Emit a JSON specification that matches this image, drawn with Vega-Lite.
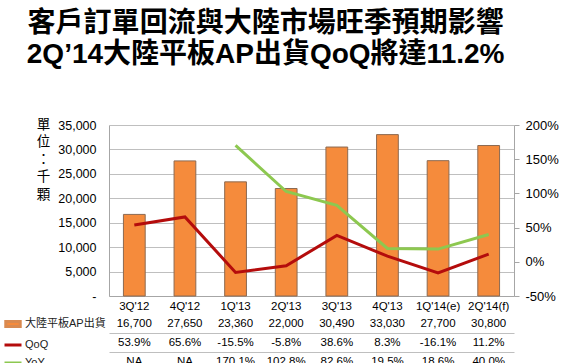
{
  "$schema": "https://vega.github.io/schema/vega-lite/v6.json",
  "background": "white",
  "padding": {"left": 3, "right": 2, "top": 10, "bottom": 0},
  "config": {
    "view": {"stroke": null},
    "font": "Liberation Sans",
    "axis": {"labelColor": "#000", "titleColor": "#000", "labelOverlap": false},
    "legend": {"orient": "left", "title": null, "offset": 3, "labelFont": "Liberation Sans, Noto Sans CJK TC", "labelFontSize": 11, "labelColor": "#222", "symbolSize": 289, "symbolStrokeWidth": 3, "rowPadding": 2, "labelOffset": 2, "padding": 0},
    "locale": {"number": {"decimal": ".", "thousands": ",", "grouping": [3], "currency": ["$", ""], "minus": "-"}}
  },
  "title": {
    "text": ["客戶訂單回流與大陸市場旺季預期影響", "2Q’14大陸平板AP出貨QoQ將達11.2%"],
    "font": "Liberation Sans, Noto Sans CJK TC",
    "fontSize": 28,
    "fontWeight": "bold",
    "lineHeight": 31,
    "color": "#000",
    "anchor": "middle",
    "dx": -15,
    "offset": 48
  },
  "datasets": {
    "q": [
      {"q": "3Q'12", "ship": 16700, "qoq": 0.539, "yoy": null},
      {"q": "4Q'12", "ship": 27650, "qoq": 0.656, "yoy": null},
      {"q": "1Q'13", "ship": 23360, "qoq": -0.155, "yoy": 1.701},
      {"q": "2Q'13", "ship": 22000, "qoq": -0.058, "yoy": 1.028},
      {"q": "3Q'13", "ship": 30490, "qoq": 0.386, "yoy": 0.826},
      {"q": "4Q'13", "ship": 33030, "qoq": 0.083, "yoy": 0.195},
      {"q": "1Q'14(e)", "ship": 27700, "qoq": -0.161, "yoy": 0.186},
      {"q": "2Q'14(f)", "ship": 30800, "qoq": 0.112, "yoy": 0.4}
    ]
  },
  "spacing": 2,
  "resolve": {
    "scale": {"fill": "independent", "stroke": "independent", "shape": "independent"},
    "legend": {"fill": "independent", "stroke": "independent", "shape": "independent"}
  },
  "vconcat": [
    {
      "width": 405,
      "height": 171,
      "data": {"name": "q"},
      "encoding": {
        "x": {
          "field": "q", "type": "nominal", "sort": null,
          "scale": {"paddingInner": 0.57, "paddingOuter": 0.285},
          "axis": {"title": null, "labelAngle": 0, "ticks": false, "domainColor": "#A6A6A6", "labelFontSize": 11.5, "labelPadding": 4}
        }
      },
      "layer": [
        {
          "mark": {"type": "bar", "fill": "#F58B3C", "stroke": "#8C6A52", "strokeWidth": 1},
          "encoding": {
            "y": {
              "field": "ship", "type": "quantitative",
              "scale": {"domain": [0, 35000], "nice": false},
              "axis": {
                "title": ["單", "位", "：", "千", "顆"],
                "titleAngle": 0, "titleFont": "Noto Sans CJK TC", "titleFontSize": 13.5, "titleFontWeight": "normal",
                "titleLineHeight": 17.5, "titleAlign": "center", "titleBaseline": "top", "titleX": -66, "titleY": -8,
                "values": [0, 5000, 10000, 15000, 20000, 25000, 30000, 35000],
                "labelExpr": "datum.value == 0 ? '-     ' : format(datum.value, ',')",
                "ticks": false, "domainColor": "#A6A6A6", "gridColor": "#BFBFBF", "labelFontSize": 12.5, "labelPadding": 13
              }
            }
          }
        },
        {
          "layer": [
            {
              "mark": {"type": "line", "color": "#B40C0C", "strokeWidth": 3},
              "encoding": {
                "y": {
                  "field": "qoq", "type": "quantitative",
                  "scale": {"domain": [-0.5, 2], "nice": false},
                  "axis": {"orient": "right", "title": null, "values": [-0.5, 0, 0.5, 1, 1.5, 2], "format": ".0%", "labelOverlap": false, "grid": false, "tickSize": 5, "tickColor": "#A6A6A6", "domainColor": "#A6A6A6", "labelFontSize": 13, "labelPadding": 6}
                }
              }
            },
            {
              "transform": [{"filter": "datum.yoy != null"}],
              "mark": {"type": "line", "color": "#8DC850", "strokeWidth": 3},
              "encoding": {
                "y": {
                  "field": "yoy", "type": "quantitative",
                  "axis": {"orient": "right", "title": null, "values": [-0.5, 0, 0.5, 1, 1.5, 2], "format": ".0%", "labelOverlap": false, "grid": false, "tickSize": 5, "tickColor": "#A6A6A6", "domainColor": "#A6A6A6", "labelFontSize": 13, "labelPadding": 6}
                }
              }
            }
          ]
        }
      ],
      "resolve": {"scale": {"y": "independent"}}
    },
    {
      "width": 405,
      "height": 57,
      "data": {"name": "q"},
      "encoding": {
        "x": {"field": "q", "type": "nominal", "sort": null, "scale": {"paddingInner": 0.57, "paddingOuter": 0.285}, "axis": null}
      },
      "layer": [
        {
          "mark": {"type": "text", "fontSize": 11.5, "color": "#000"},
          "encoding": {
            "y": {"datum": "大陸平板AP出貨", "type": "nominal",
              "scale": {"type": "band", "domain": ["大陸平板AP出貨", "QoQ", "YoY"], "paddingInner": 0, "paddingOuter": 0},
              "axis": {"title": null, "labels": false, "ticks": false, "domain": false, "grid": true, "bandPosition": 1, "gridColor": "#BFBFBF"}},
            "text": {"field": "ship", "type": "quantitative", "format": ","}
          }
        },
        {
          "mark": {"type": "text", "fontSize": 11.5, "color": "#000"},
          "encoding": {
            "y": {"datum": "QoQ", "type": "nominal"},
            "text": {"field": "qoq", "type": "quantitative", "format": ".1%"}
          }
        },
        {
          "mark": {"type": "text", "fontSize": 11.5, "color": "#000"},
          "encoding": {
            "y": {"datum": "YoY", "type": "nominal"},
            "text": {"condition": {"test": "datum.yoy == null", "value": "NA"}, "field": "yoy", "type": "quantitative", "format": ".1%"}
          }
        },
        {
          "data": {"values": []},
          "mark": {"type": "point", "filled": true, "opacity": 1},
          "encoding": {
            "fill": {
              "field": "s", "type": "nominal",
              "scale": {"domain": ["大陸平板AP出貨", "QoQ", "YoY"], "range": ["#F58B3C", "#B40C0C", "#8DC850"]}
            },
            "stroke": {
              "field": "s", "type": "nominal",
              "scale": {"domain": ["大陸平板AP出貨", "QoQ", "YoY"], "range": ["#D98A50", "#B40C0C", "#8DC850"]}
            },
            "shape": {
              "field": "s", "type": "nominal",
              "scale": {"domain": ["大陸平板AP出貨", "QoQ", "YoY"], "range": ["M-0.85,-0.3H0.85V0.3H-0.85Z", "stroke", "stroke"]}
            }
          }
        }
      ]
    }
  ]
}
